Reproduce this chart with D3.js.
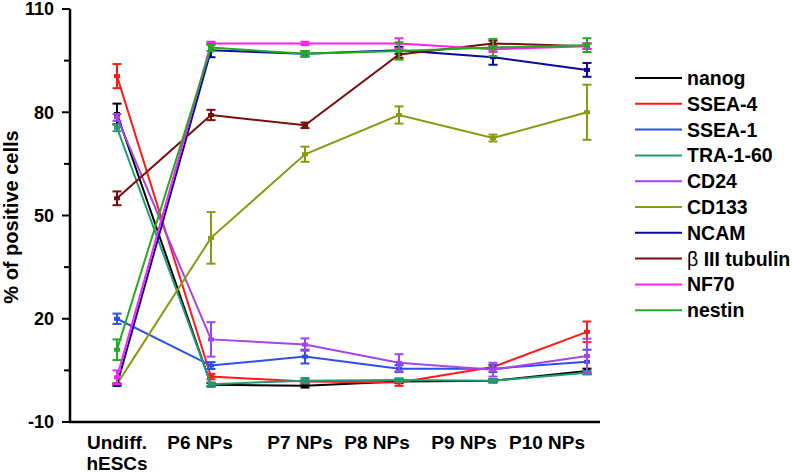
<!DOCTYPE html>
<html><head><meta charset="utf-8">
<script src="https://cdn.jsdelivr.net/npm/d3@7"></script>
<style>body{margin:0;background:#fff}svg{display:block;font-family:"Liberation Sans",Arial,sans-serif}</style>
</head><body><svg id="c" width="792" height="473"></svg>
<script>
const categories = ["Undiff.|hESCs", "P6 NPs", "P7 NPs", "P8 NPs", "P9 NPs", "P10 NPs"];
const seriesNames = ["nanog", "SSEA-4", "SSEA-1", "TRA-1-60", "CD24", "CD133", "NCAM", "β III tubulin", "NF70", "nestin"];
const seriesColors = ["#000000", "#ff1a1a", "#2e50e6", "#229977", "#a444ec", "#8a9a10", "#0a0a9a", "#7a0c0c", "#ff22ee", "#22aa22"];
const nanog      = [79.5, 0.8, 0.5, 1.8, 2.0, 4.8];
const nanogErr   = [3, 0.5, 0.5, 0.5, 0.5, 0.7];
const ssea4      = [90.5, 3.2, 1.8, 1.5, 6.0, 16.2];
const ssea4Err   = [3.5, 0.8, 0.5, 1, 0.5, 3];
const ssea1      = [20, 6.4, 9.0, 5.5, 5.5, 7.5];
const ssea1Err   = [1.5, 1, 2, 1, 1, 3.5];
const tra160     = [75.5, 1.0, 2.0, 2.2, 2.0, 4.3];
const tra160Err  = [1, 0.5, 0.8, 0.5, 0.5, 0.5];
const cd24       = [78.5, 14, 12.5, 7.2, 5.2, 9.2];
const cd24Err    = [1, 5, 1.8, 2.5, 2, 5];
const cd133      = [1.0, 43.5, 67.8, 79.2, 72.5, 80];
const cd133Err   = [0.3, 7.5, 2.2, 2.5, 1, 8];
const ncam       = [0.8, 98, 97, 98, 96, 92.3];
const ncamErr    = [0.3, 2, 0.8, 1, 2.2, 2];
const b3tub      = [55, 79.2, 76.2, 96.8, 100, 99.2];
const b3tubErr   = [2, 1.5, 0.8, 1, 0.8, 0.8];
const nf70       = [3, 100, 100, 100, 98.3, 99.2];
const nf70Err    = [2, 0.5, 0.5, 1.5, 0.8, 0.8];
const nestin     = [11, 98.8, 97, 97.8, 98.8, 99.5];
const nestinErr  = [3, 1, 0.8, 2.5, 2.5, 2];
const yTicks = [-10, 20, 50, 80, 110];
const yMinorTicks = [5, 35, 65, 95];

const values = [nanog, ssea4, ssea1, tra160, cd24, cd133, ncam, b3tub, nf70, nestin];
const errs = [nanogErr, ssea4Err, ssea1Err, tra160Err, cd24Err, cd133Err, ncamErr, b3tubErr, nf70Err, nestinErr];
const series = seriesNames.map((n, i) => ({name: n, color: seriesColors[i], pts: values[i].map((v, j) => ({c: categories[j], v, e: errs[i][j]}))}));

const svg = d3.select("#c");
const x = d3.scalePoint().domain(categories).range([117, 587]);
const y = d3.scaleLinear().domain([-10, 110]).range([422, 9]);
const fam = '"Liberation Sans", Arial, sans-serif';

// series
const line = d3.line().x(d => x(d.c)).y(d => y(d.v));
const g = svg.append("g");
series.forEach(s => {
  const gs = g.append("g");
  gs.append("path").attr("d", line(s.pts)).attr("fill", "none").attr("stroke", s.color).attr("stroke-width", 2);
  s.pts.forEach(p => {
    const cx = x(p.c), y1 = y(p.v + p.e), y0 = y(p.v - p.e);
    gs.append("line").attr("x1", cx).attr("x2", cx).attr("y1", y1).attr("y2", y0).attr("stroke", s.color).attr("stroke-width", 2);
    [y1, y0].forEach(yy => gs.append("line").attr("x1", cx - 4.5).attr("x2", cx + 4.5).attr("y1", yy).attr("y2", yy).attr("stroke", s.color).attr("stroke-width", 2));
    gs.append("rect").attr("x", cx - 3).attr("y", y(p.v) - 2).attr("width", 6).attr("height", 4).attr("fill", s.color);
  });
});

// y axis
const ya = svg.append("g").attr("transform", "translate(70,0)");
ya.append("line").attr("x1", 0).attr("x2", 0).attr("y1", y(110)).attr("y2", y(-10)).attr("stroke", "#000").attr("stroke-width", 2.5);
yTicks.forEach(t => {
  ya.append("line").attr("x1", -8).attr("x2", 0).attr("y1", y(t)).attr("y2", y(t)).attr("stroke", "#000").attr("stroke-width", 2);
  ya.append("text").attr("x", -16).attr("y", y(t)).attr("dy", "0.36em").attr("text-anchor", "end")
    .style("font", `bold 18px ${fam}`).text(t);
});
yMinorTicks.forEach(t => ya.append("line").attr("x1", -6).attr("x2", 0).attr("y1", y(t)).attr("y2", y(t)).attr("stroke", "#000").attr("stroke-width", 2));

// x axis
svg.append("line").attr("x1", 69).attr("x2", 600).attr("y1", y(-10)).attr("y2", y(-10)).attr("stroke", "#000").attr("stroke-width", 2.5);
const labelShift = [0, -11, -5, -22, -29, -40];
categories.forEach((c, i) => {
  const t = svg.append("text").attr("x", x(c) + labelShift[i]).attr("y", 449).attr("text-anchor", "middle").style("font", `bold 19px ${fam}`);
  c.split("|").forEach((part, k) => t.append("tspan").attr("x", x(c) + labelShift[i]).attr("dy", k ? 21 : 0).text(part));
});

// y title
svg.append("text").attr("transform", "translate(18,217) rotate(-90)").attr("text-anchor", "middle")
  .style("font", `bold 20px ${fam}`).text("% of positive cells");

// legend
const lg = svg.append("g");
series.forEach((s, i) => {
  const yy = 78 + i * 25.8;
  lg.append("line").attr("x1", 635).attr("x2", 682).attr("y1", yy).attr("y2", yy).attr("stroke", s.color).attr("stroke-width", 2);
  const t = lg.append("text").attr("x", 687).attr("y", yy).attr("dy", "0.36em").style("font", `bold 19.5px ${fam}`);
  if (s.name.startsWith("β")) {
    t.append("tspan").style("font-weight", "normal").text("β ");
    t.append("tspan").text(s.name.slice(2));
  } else t.text(s.name);
});
</script></body></html>
